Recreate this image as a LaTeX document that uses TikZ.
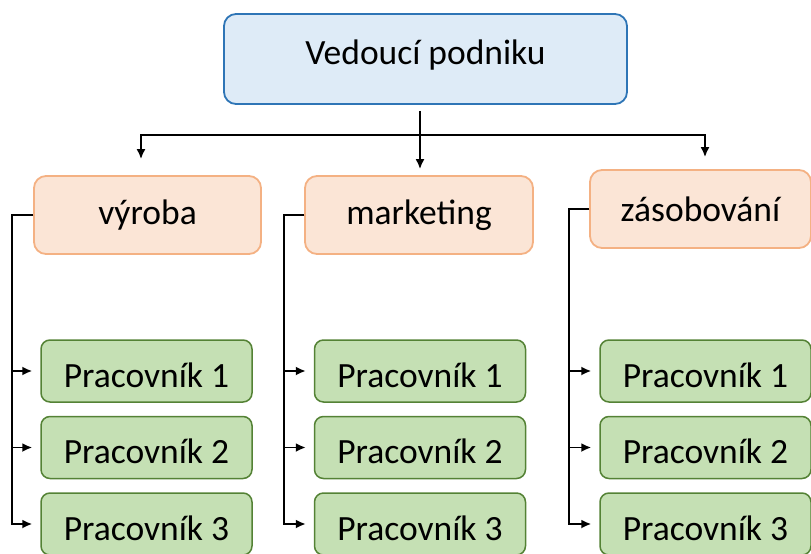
\documentclass[tikz,border=0pt]{standalone}
\usepackage{fontspec}
\setmainfont{Carlito}
\usepackage{xcolor}
\usetikzlibrary{arrows.meta}

\definecolor{headfill}{HTML}{DEEBF7}
\definecolor{headline}{HTML}{2E75B6}
\definecolor{deptfill}{HTML}{FBE5D6}
\definecolor{deptline}{HTML}{F4B183}
\definecolor{workfill}{HTML}{C5E0B4}
\definecolor{workline}{HTML}{548235}

\begin{document}
\begin{tikzpicture}[x=1pt, y=1pt, node distance=76.5pt,
    font=\fontsize{35.5}{40}\selectfont,
    head/.style={rectangle, rounded corners=12pt, draw=headline, line width=1.8pt, fill=headfill, minimum width=403pt, minimum height=90pt, text height=26pt, text depth=15pt},
    dept/.style={rectangle, rounded corners=12pt, draw=deptline, line width=1.8pt, fill=deptfill, minimum width=227pt, minimum height=78pt},
    worker/.style={rectangle, rounded corners=9pt, draw=workline, line width=1.5pt, fill=workfill, minimum width=211pt, minimum height=62pt, text height=32pt, text depth=0pt},
    edge/.style={draw, line width=1.8pt, -{Latex[length=10pt,width=9pt]}}]
    \useasboundingbox (0,0) rectangle (811,-554);

    % Define nodes
    \node [head] (vedouci) at (425.5,-59) {Vedoucí podniku};
    \node [dept] (vyroba) at (147.5,-215) {výroba};
    \node [dept, minimum width=228pt] (marketing) at (419,-215) {marketing};
    \node [dept, minimum width=221pt] (zasobovani) at (700.5,-209) {zásobování};

    \node [worker, below of=vyroba, node distance=156pt, xshift=-1pt] (v1) {Pracovník 1};
    \node [worker, below of=v1] (v2) {Pracovník 2};
    \node [worker, below of=v2] (v3) {Pracovník 3};
    \node [worker, below of=marketing, node distance=156pt, xshift=1pt] (m1) {Pracovník 1};
    \node [worker, below of=m1] (m2) {Pracovník 2};
    \node [worker, below of=m2] (m3) {Pracovník 3};
    \node [worker, below of=zasobovani, node distance=162pt, xshift=5pt] (z1) {Pracovník 1};
    \node [worker, below of=z1] (z2) {Pracovník 2};
    \node [worker, below of=z2] (z3) {Pracovník 3};

    \coordinate (bus) at (420,-135);

    % Draw edges
    \draw [edge, shorten <=6pt, shorten >=6pt] (vedouci.south -| bus) -- (marketing.north -| bus);
    \draw [edge, shorten >=16pt] (bus) -| ([xshift=-6.5pt]vyroba.north);
    \draw [edge, shorten >=12pt] (bus) -| ([xshift=4.5pt]zasobovani.north);

    \foreach \w in {v1,v2,v3}
        \draw [edge, shorten >=8pt] (vyroba.west) -- ++(-21pt,0) |- (\w.west);
    \foreach \w in {m1,m2,m3}
        \draw [edge, shorten >=8pt] (marketing.west) -- ++(-20pt,0) |- (\w.west);
    \foreach \w in {z1,z2,z3}
        \draw [edge, shorten >=8pt] (zasobovani.west) -- ++(-20pt,0) |- (\w.west);
\end{tikzpicture}
\end{document}
